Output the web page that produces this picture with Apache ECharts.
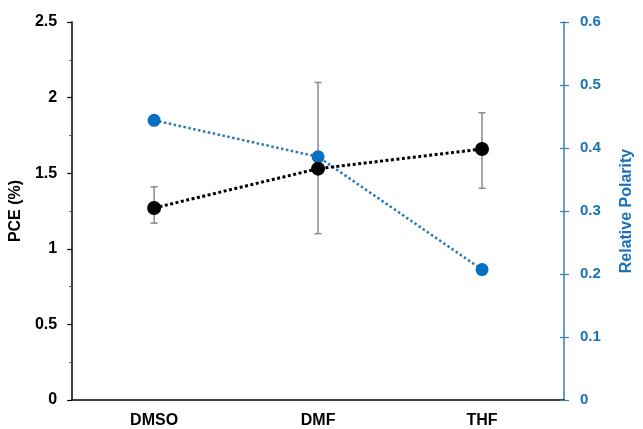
<!DOCTYPE html>
<html>
<head>
<meta charset="utf-8">
<script src="https://cdn.jsdelivr.net/npm/echarts@6/dist/echarts.min.js"></script>
<style>
html,body{margin:0;padding:0;background:#fff;}
#c{width:643px;height:429px;}
</style>
</head>
<body>
<div id="c"></div>
<script>
const categories = ['DMSO', 'DMF', 'THF'];
const pce = [1.27, 1.53, 1.66];
const pceLow = [1.17, 1.10, 1.40];
const pceHigh = [1.41, 2.10, 1.90];
const polarity = [0.444, 0.386, 0.207];

const FONT = '"Liberation Sans", Arial, sans-serif';
const BLUE = '#1a73b8';

const errData = categories.map((c, i) => [i, pceLow[i], pceHigh[i]]);

const chart = echarts.init(document.getElementById('c'), null, {renderer: 'canvas'});
chart.setOption({
  animation: false,
  backgroundColor: '#fff',
  grid: {left: 70, right: 76, top: 22, bottom: 28, containLabel: false},
  xAxis: {
    type: 'category',
    data: categories,
    boundaryGap: true,
    axisLine: {lineStyle: {color: '#000', width: 1.5}},
    axisTick: {alignWithLabel: true, inside: true, length: 5, lineStyle: {color: '#000', width: 1.2}},
    axisLabel: {color: '#000', fontFamily: FONT, fontWeight: 'bold', fontSize: 16, margin: 13},
    splitLine: {show: false}
  },
  yAxis: [
    {
      type: 'value', position: 'left', min: 0, max: 2.5, interval: 0.5,
      name: 'PCE (%)', nameLocation: 'middle', nameGap: 42, nameRotate: 90,
      nameTextStyle: {color: '#000', fontFamily: FONT, fontWeight: 'bold', fontSize: 16},
      axisLine: {show: true, lineStyle: {color: '#000', width: 1.5}},
      axisTick: {show: true, length: 5, lineStyle: {color: '#000', width: 1.2}},
      minorTick: {show: true, splitNumber: 2, length: 3, lineStyle: {color: '#555', width: 1}},
      axisLabel: {color: '#000', fontFamily: FONT, fontWeight: 'bold', fontSize: 16, margin: 15,
        formatter: v => String(v)},
      splitLine: {show: false}
    },
    {
      type: 'value', position: 'right', min: 0, max: 0.6, interval: 0.1,
      name: 'Relative Polarity', nameLocation: 'middle', nameGap: 55, nameRotate: 90,
      nameTextStyle: {color: BLUE, fontFamily: FONT, fontWeight: 'bold', fontSize: 16},
      axisLine: {show: true, lineStyle: {color: '#3a7fb0', width: 1.5}},
      axisTick: {show: true, length: 5, lineStyle: {color: '#3a7fb0', width: 1.2}},
      axisLabel: {color: BLUE, fontFamily: FONT, fontWeight: 'bold', fontSize: 15, margin: 16,
        formatter: v => String(+v.toFixed(1))},
      splitLine: {show: false}
    },
    {
      type: 'value', position: 'right', min: 0, max: 0.6, interval: 0.1,
      axisLine: {show: false},
      axisTick: {show: true, inside: true, length: 4, lineStyle: {color: '#3a7fb0', width: 1.2}},
      axisLabel: {show: false},
      splitLine: {show: false}
    }
  ],
  series: [
    {
      type: 'custom',
      name: 'err',
      xAxisIndex: 0, yAxisIndex: 0,
      data: errData,
      z: 1,
      renderItem: function (params, api) {
        const x = api.value(0);
        const lo = api.coord([x, api.value(1)]);
        const hi = api.coord([x, api.value(2)]);
        const w = 3.5;
        const st = {stroke: '#8a8a8a', lineWidth: 1.5};
        return {
          type: 'group',
          children: [
            {type: 'line', shape: {x1: lo[0], y1: lo[1], x2: hi[0], y2: hi[1]}, style: st},
            {type: 'line', shape: {x1: hi[0] - w, y1: hi[1], x2: hi[0] + w, y2: hi[1]}, style: st},
            {type: 'line', shape: {x1: lo[0] - w, y1: lo[1], x2: lo[0] + w, y2: lo[1]}, style: st}
          ]
        };
      }
    },
    {
      type: 'line',
      name: 'Relative Polarity',
      yAxisIndex: 1,
      data: polarity,
      symbol: 'circle', symbolSize: 13,
      itemStyle: {color: '#0a6fc2'},
      lineStyle: {color: '#2a7ab8', width: 2.5, type: [2.5, 2.5]},
      z: 2
    },
    {
      type: 'line',
      name: 'PCE',
      yAxisIndex: 0,
      data: pce,
      symbol: 'circle', symbolSize: 14,
      itemStyle: {color: '#000'},
      lineStyle: {color: '#000', width: 3, type: [3, 2.5]},
      z: 3
    }
  ]
});
</script>
</body>
</html>
